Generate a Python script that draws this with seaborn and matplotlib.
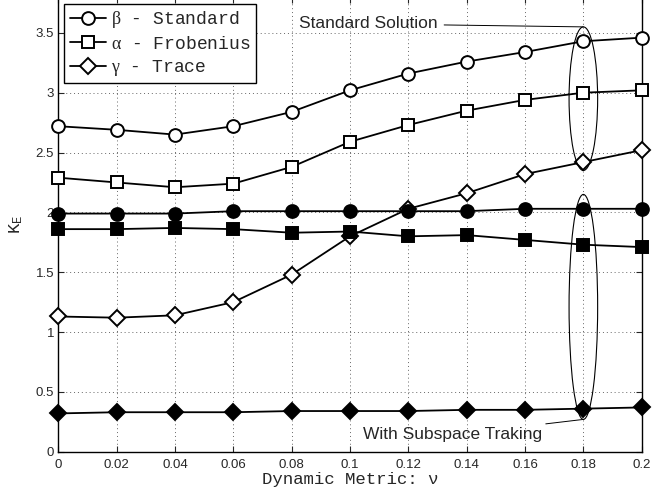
import numpy as np
import matplotlib
matplotlib.use("Agg")
import matplotlib.pyplot as plt
from matplotlib.patches import Ellipse
from matplotlib.lines import Line2D
import seaborn as sns
import pandas as pd

# dados
nu = [0, 0.02, 0.04, 0.06, 0.08, 0.1, 0.12, 0.14, 0.16, 0.18, 0.2]
nu_labels = ["0", "0.02", "0.04", "0.06", "0.08", "0.1", "0.12", "0.14", "0.16", "0.18", "0.2"]

beta_std = [2.72, 2.69, 2.65, 2.72, 2.84, 3.02, 3.16, 3.26, 3.34, 3.43, 3.46]
alpha_frob = [2.29, 2.25, 2.21, 2.24, 2.38, 2.59, 2.73, 2.85, 2.94, 3.00, 3.02]
gamma_trace = [1.13, 1.12, 1.14, 1.25, 1.48, 1.80, 2.03, 2.16, 2.32, 2.42, 2.52]

beta_sub = [1.99, 1.99, 1.99, 2.01, 2.01, 2.01, 2.01, 2.01, 2.03, 2.03, 2.03]
alpha_sub = [1.86, 1.86, 1.87, 1.86, 1.83, 1.84, 1.80, 1.81, 1.77, 1.73, 1.71]
gamma_sub = [0.32, 0.33, 0.33, 0.33, 0.34, 0.34, 0.34, 0.35, 0.35, 0.36, 0.37]

yticks = [0, 0.5, 1, 1.5, 2, 2.5, 3, 3.5]
ytick_labels = ["0", "0.5", "1", "1.5", "2", "2.5", "3", "3.5"]

sns.set_style("ticks")
plt.rcParams['font.family'] = ['Liberation Sans', 'DejaVu Sans']
plt.rcParams['mathtext.fontset'] = 'custom'
plt.rcParams['mathtext.rm'] = 'Liberation Serif'
plt.rcParams['mathtext.it'] = 'Liberation Serif:italic'

df = pd.DataFrame({
    'nu': nu * 6,
    'K': beta_std + alpha_frob + gamma_trace + beta_sub + alpha_sub + gamma_sub,
    'serie': sum([[s] * len(nu) for s in ['b', 'a', 'g', 'bs', 'as', 'gs']], []),
})

fig = plt.figure(figsize=(6.52, 4.97), dpi=100)
ax = fig.add_axes([0.0894, 0.0911, 0.8948, 0.915])

estilos = {
    'b': ('o', 'white', 9.2),
    'a': ('s', 'white', 8.2),
    'g': ('D', 'white', 8.2),
    'bs': ('o', 'black', 9.2),
    'as': ('s', 'black', 8.2),
    'gs': ('D', 'black', 8.2),
}
for serie, (mk, fc, ms) in estilos.items():
    sub = df[df['serie'] == serie]
    sns.lineplot(data=sub, x='nu', y='K', ax=ax, color='black', lw=1.3,
                 marker=mk, markersize=ms, markerfacecolor=fc,
                 markeredgecolor='black', markeredgewidth=1.4, zorder=3,
                 clip_on=False)

ax.set_xlim(0, 0.2)
ax.set_ylim(0, 3.8)
ax.set_xticks(nu)
ax.set_xticklabels(nu_labels, fontsize=9.5)
ax.set_yticks(yticks)
ax.set_yticklabels(ytick_labels, fontsize=9.5)
ax.tick_params(direction='in', length=4, width=0.8, top=True, right=True)
ax.tick_params(axis='x', pad=5)
ax.tick_params(axis='y', pad=3)
ax.grid(True, linestyle=(0, (1, 3)), color='black', lw=0.7, alpha=0.6)
for sp in ax.spines.values():
    sp.set_visible(True)
    sp.set_linewidth(1.0)
    sp.set_color('black')

ax.set_xlabel('Dynamic Metric: ν', family=['Liberation Mono'], fontsize=12.5, labelpad=1)
ax.set_ylabel(r'K$_\mathregular{E}$', family=['Liberation Mono'], fontsize=12.5, labelpad=8)

# elipses e anotações
ax.add_patch(Ellipse((0.18, 2.95), 0.0098, 1.2, fill=False, ec='black', lw=0.8, zorder=4))
ax.add_patch(Ellipse((0.18, 1.21), 0.0098, 1.88, fill=False, ec='black', lw=0.8, zorder=4))
ax.annotate('Standard Solution', xy=(0.18, 3.55), xytext=(0.1302, 3.575),
            fontsize=12.5, va='center', ha='right',
            arrowprops=dict(arrowstyle='-', color='black', lw=0.7,
                            shrinkA=2, shrinkB=0))
ax.annotate('With Subspace Traking', xy=(0.18, 0.27), xytext=(0.1657, 0.14),
            fontsize=12.5, va='center', ha='right',
            arrowprops=dict(arrowstyle='-', color='black', lw=0.7,
                            shrinkA=2, shrinkB=0))

handles = [
    Line2D([], [], color='black', lw=1.3, marker='o', ms=9.2, mfc='white', mew=1.4),
    Line2D([], [], color='black', lw=1.3, marker='s', ms=8.2, mfc='white', mew=1.4),
    Line2D([], [], color='black', lw=1.3, marker='D', ms=8.2, mfc='white', mew=1.4),
]
labels = [r'$\mathrm{\beta}$ - Standard', r'$\mathrm{\alpha}$ - Frobenius', r'$\mathrm{\gamma}$ - Trace']
leg = ax.legend(handles, labels, loc='upper left', bbox_to_anchor=(0.0103, 0.985),
                prop={'family': 'Liberation Mono', 'size': 13},
                frameon=True, fancybox=False, edgecolor='black', framealpha=1,
                handlelength=2.0, handletextpad=0.3, borderpad=0.3,
                labelspacing=0.3, borderaxespad=0)
leg.get_frame().set_linewidth(1.0)

fig.savefig('out.png', dpi=100)
